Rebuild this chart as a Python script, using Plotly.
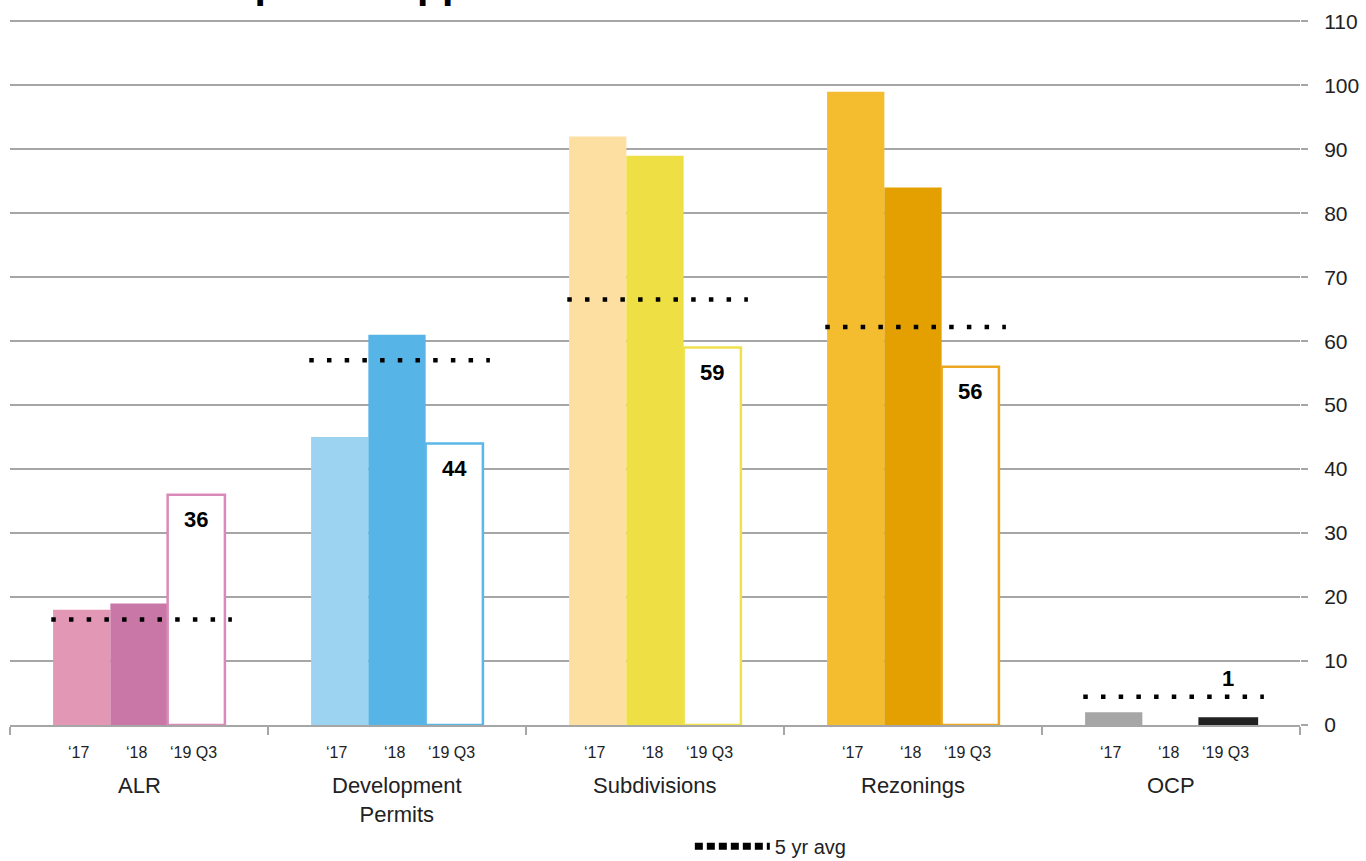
import plotly.graph_objects as go

# Application counts by type
categories = ["ALR", "Development<br>Permits", "Subdivisions", "Rezonings", "OCP"]
periods = ["‘17", "‘18", "‘19 Q3"]
apps_2017 = [18, 45, 92, 99, 2]
apps_2018 = [19, 61, 89, 84, 0]
apps_2019_q3 = [36, 44, 59, 56, 1]
five_yr_avg = [16.5, 57, 66.5, 62.2, 4.4]

# Per-category palette
fill_2017 = ["#E297B5", "#9CD3F1", "#FDE0A1", "#F4BD30", "#A6A6A6"]
fill_2018 = ["#C977A6", "#57B4E7", "#EEE044", "#E4A000", "#A6A6A6"]
edge_2019 = ["#D98AB9", "#5CB6E7", "#EFE14C", "#EBA722", "#222222"]
fill_2019 = ["white", "white", "white", "white", "#222222"]

FONT = "Liberation Sans, Arial, sans-serif"
GRID = "#A6A6A6"
BAR_W = 0.222
OFFSETS = [-0.222, 0.0, 0.222]
AVG_SPAN = (-0.34, 0.36)

idx = list(range(len(categories)))

fig = go.Figure()

series = [
    (apps_2017, fill_2017, fill_2017, 0),
    (apps_2018, fill_2018, fill_2018, 0),
    (apps_2019_q3, fill_2019, edge_2019, 2.5),
]
for (vals, fills, edges, lw), off in zip(series, OFFSETS):
    fig.add_trace(go.Bar(
        x=[i + off for i in idx], y=vals, width=BAR_W,
        marker=dict(color=fills, line=dict(color=edges, width=lw)),
        showlegend=False, hoverinfo="skip",
    ))

# Five-year average as a dotted segment across each group
for i, avg in zip(idx, five_yr_avg):
    fig.add_trace(go.Scatter(
        x=[i + AVG_SPAN[0], i + AVG_SPAN[1]], y=[avg, avg], mode="lines",
        line=dict(color="black", width=4.5, dash="4.5px,13.2px"),
        showlegend=False, hoverinfo="skip",
    ))

# Legend entry
fig.add_trace(go.Scatter(
    x=[None], y=[None], mode="lines", name="5 yr avg",
    line=dict(color="black", width=7, dash="8px,4px"),
))

annotations = []
# Value labels on the current-year bars
for i, v in zip(idx, apps_2019_q3):
    if v >= 10:
        annotations.append(dict(
            x=i + OFFSETS[2], y=v, xref="x", yref="y", text=f"<b>{v}</b>",
            showarrow=False, yanchor="top", yshift=-10,
            font=dict(family=FONT, size=22, color="black"),
        ))
    else:
        annotations.append(dict(
            x=i + OFFSETS[2], y=v, xref="x", yref="y", text=f"<b>{v}</b>",
            showarrow=False, yanchor="middle", yshift=40,
            font=dict(family=FONT, size=22, color="black"),
        ))

# Period labels under each bar and category names below
for i, cat in zip(idx, categories):
    for off, p in zip(OFFSETS, periods):
        annotations.append(dict(
            x=i + off, y=0, xref="x", yref="y", text=p, showarrow=False,
            yanchor="middle", yshift=-27, xshift=-3,
            font=dict(family=FONT, size=16, color="#222222"),
        ))
    annotations.append(dict(
        x=i, y=0, xref="x", yref="y", text=cat, showarrow=False,
        yanchor="top", yshift=-46,
        font=dict(family=FONT, size=22, color="#222222"),
    ))

# Title sits above the page edge
annotations.append(dict(
    x=0.084, y=1, xref="paper", yref="paper", xanchor="left", yanchor="bottom",
    yshift=11, text="<b>Development Applications</b>", showarrow=False,
    font=dict(family=FONT, size=41, color="black"),
))

fig.update_layout(
    width=1366, height=861,
    margin=dict(l=10, r=66, t=20, b=136, autoexpand=False),
    paper_bgcolor="white", plot_bgcolor="white",
    barmode="overlay",
    font=dict(family=FONT, color="#222222"),
    annotations=annotations,
    legend=dict(
        orientation="h", x=0.527, xanchor="left", y=-0.172, yanchor="middle",
        font=dict(family=FONT, size=20, color="#222222"), itemwidth=75,
    ),
    xaxis=dict(
        range=[-0.5, 4.5], showgrid=False, zeroline=False,
        showline=True, linecolor=GRID, linewidth=2,
        tickvals=[k - 0.5 for k in range(len(categories) + 1)],
        ticks="outside", ticklen=8, tickcolor=GRID, tickwidth=2,
        showticklabels=False,
    ),
    yaxis=dict(
        side="right", range=[0, 110.2], dtick=10, showgrid=True,
        gridcolor=GRID, gridwidth=2, zeroline=False,
        ticks="outside", ticklen=7, tickcolor=GRID, tickwidth=2,
        ticklabelstandoff=12,
        tickfont=dict(family=FONT, size=21, color="#222222"),
    ),
)

fig.write_html("out.html")
